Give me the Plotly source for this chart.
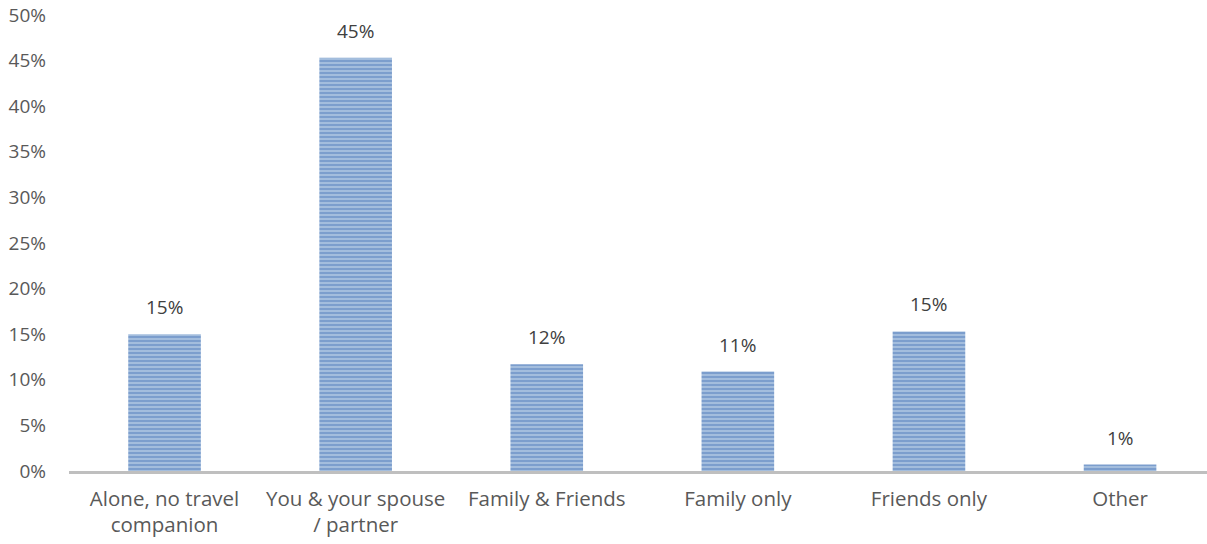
import plotly.graph_objects as go

categories = ["Alone, no travel<br>companion", "You & your spouse<br>/ partner", "Family & Friends",
              "Family only", "Friends only", "Other"]
values = [15.0, 45.3, 11.7, 10.9, 15.3, 0.7]
y_ticks = [0, 5, 10, 15, 20, 25, 30, 35, 40, 45, 50]
y_tick_labels = [f"{t}%" for t in y_ticks]

FONT = "'Open Sans', sans-serif"
GREY = "#595959"

fig = go.Figure()
fig.add_trace(go.Bar(
    x=categories, y=values, width=0.38,
    marker=dict(color="#B4C9E4", line=dict(width=0),
                pattern=dict(shape="-", fgcolor="#4374B5", bgcolor="#B4C9E4", size=4, solidity=0.65)),
    hoverinfo="skip",
))
for c, v in zip(categories, values):
    fig.add_annotation(x=c, y=v, text=f"{v:.0f}%", showarrow=False, yanchor="bottom", yshift=12,
                       font=dict(family=FONT, size=19, color="#404040"))

fig.update_layout(
    width=1207, height=544, margin=dict(l=69, r=0, t=15, b=73),
    plot_bgcolor="white", paper_bgcolor="white", showlegend=False,
    font=dict(family=FONT, size=19, color=GREY),
    xaxis=dict(range=[-0.5, 5.455], showline=True, linecolor="#BFBFBF", linewidth=3,
               ticks="", showgrid=False, tickfont=dict(size=20.5, color=GREY),
               ticklabelstandoff=7),
    yaxis=dict(range=[0, 50], tickvals=y_ticks, ticktext=y_tick_labels, showgrid=False,
               zeroline=False, showline=False, ticks="", tickfont=dict(size=19, color=GREY),
               ticklabelstandoff=22),
)
fig.write_html("out.html")
